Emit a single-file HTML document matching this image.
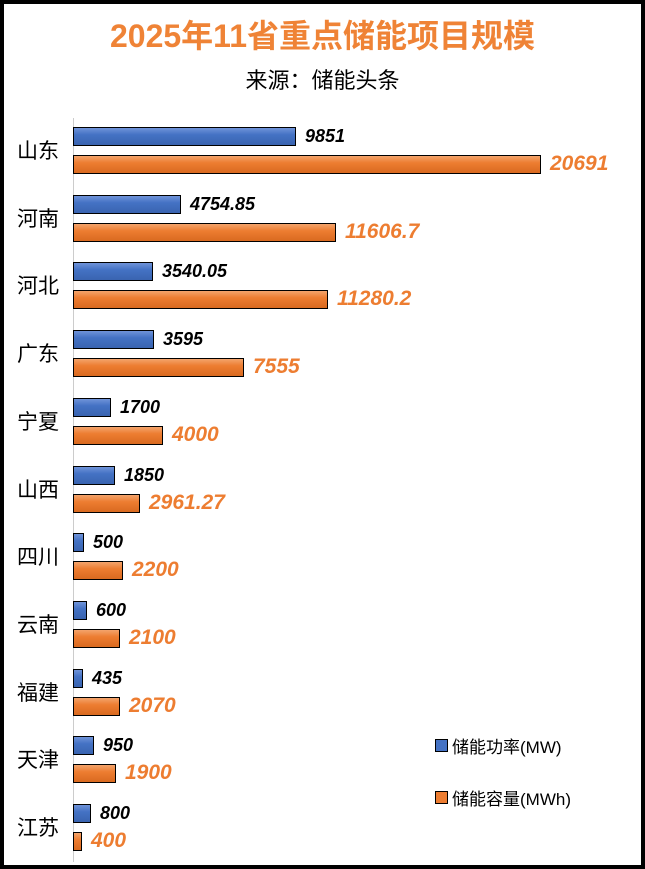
<!DOCTYPE html>
<html><head><meta charset="utf-8"><style>
body{margin:0;width:645px;height:869px;overflow:hidden;background:#fff;font-family:"Liberation Sans","Noto Sans CJK SC",sans-serif;}
#f{position:absolute;left:0;top:0;width:637px;height:861px;border:4px solid #000;background:#fff;}
.a{position:absolute;}
.b{position:absolute;left:73px;height:19px;border:1px solid #000;box-sizing:border-box;}
.bl{background:linear-gradient(#6f93d8,#4472c4 40%,#3a64b0);}
.or{background:linear-gradient(#f4a46c,#ed7d31 40%,#d96a20);}
.c{position:absolute;left:17px;font-size:21px;color:#000;}
.v{position:absolute;font-size:18px;font-weight:bold;font-style:italic;}
</style></head><body>
<div id="f"></div>
<div class="a" style="left:0;width:645px;top:11px;text-align:center;font-size:32px;font-weight:bold;color:#ef8336;">2025年11省重点储能项目规模</div>
<div class="a" style="left:0;width:645px;top:63px;text-align:center;font-size:22px;">来源：储能头条</div>
<div class="a" style="left:73px;top:118px;width:1px;height:744px;background:#ccc;"></div>
<div id="bars"></div>
<div class="a" style="left:435px;top:739px;width:11px;height:11px;border:1px solid #000;background:#4472c4;"></div>
<div class="a" style="left:452px;top:733px;font-size:17px;">储能功率(MW)</div>
<div class="a" style="left:435px;top:791px;width:11px;height:11px;border:1px solid #000;background:#ed7d31;"></div>
<div class="a" style="left:452px;top:785px;font-size:17px;">储能容量(MWh)</div>
<script>
var d=[["山东",9851,20691,"9851","20691"],["河南",4754.85,11606.7,"4754.85","11606.7"],["河北",3540.05,11280.2,"3540.05","11280.2"],["广东",3595,7555,"3595","7555"],["宁夏",1700,4000,"1700","4000"],["山西",1850,2961.27,"1850","2961.27"],["四川",500,2200,"500","2200"],["云南",600,2100,"600","2100"],["福建",435,2070,"435","2070"],["天津",950,1900,"950","1900"],["江苏",800,400,"800","400"]];
var s=468/20691,h="";
d.forEach(function(r,i){var y=127+i*67.7;var w1=Math.round(r[1]*s),w2=Math.round(r[2]*s);
h+='<div class="c" style="top:'+(y+8)+'px">'+r[0]+'</div>';
h+='<div class="b bl" style="top:'+y+'px;width:'+w1+'px"></div>';
h+='<div class="b or" style="top:'+(y+28)+'px;width:'+w2+'px"></div>';
h+='<div class="v" style="color:#000;left:'+(73+w1+9)+'px;top:'+(y-1)+'px">'+r[3]+'</div>';
h+='<div class="v" style="color:#ed7d31;font-size:21px;left:'+(73+w2+9)+'px;top:'+(y+25)+'px">'+r[4]+'</div>';});
document.getElementById("bars").innerHTML=h;
</script>
</body></html>
